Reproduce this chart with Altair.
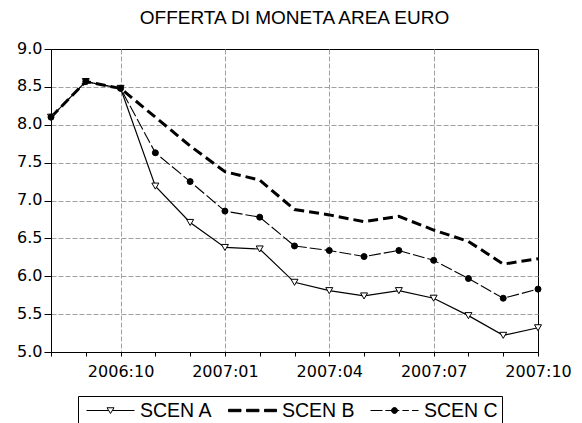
import json
import altair as alt
import pandas as pd

months = ["2006:08", "2006:09", "2006:10", "2006:11", "2006:12", "2007:01", "2007:02",
          "2007:03", "2007:04", "2007:05", "2007:06", "2007:07", "2007:08", "2007:09", "2007:10"]
scen_a = [8.10, 8.57, 8.48, 7.19, 6.71, 6.38, 6.36, 5.92, 5.81, 5.74, 5.81, 5.71, 5.48, 5.22, 5.32]
scen_b = [8.10, 8.57, 8.48, 8.10, 7.72, 7.38, 7.27, 6.88, 6.81, 6.72, 6.79, 6.61, 6.46, 6.16, 6.23]
scen_c = [8.10, 8.57, 8.48, 7.63, 7.25, 6.86, 6.78, 6.40, 6.34, 6.26, 6.34, 6.21, 5.97, 5.71, 5.83]
series_names = ["SCEN A", "SCEN B", "SCEN C"]
y_ticks = [5.0, 5.5, 6.0, 6.5, 7.0, 7.5, 8.0, 8.5, 9.0]
title_text = "OFFERTA DI MONETA AREA EURO"

rows = []
for name, vals in zip(series_names, [scen_a, scen_b, scen_c]):
    for i, (m, v) in enumerate(zip(months, vals)):
        rows.append({"series": name, "month": m, "idx": i, "value": v})
df = pd.DataFrame(rows)

n = len(months)
tick_labels = [m if m[-2:] in ("01", "04", "07", "10") else "" for m in months]
grid_idx = [i for i, t in enumerate(tick_labels) if t and 0 < i < n - 1]

GRID = "#a0a0a0"

x_enc = alt.X(
    "idx:Q",
    scale=alt.Scale(domain=[0, n - 1], nice=False, zero=False),
    axis=alt.Axis(
        values=list(range(n)),
        labelExpr=json.dumps(tick_labels) + "[datum.value]",
        title=None,
        tickSize=4,
        labelPadding=7,
        labelAngle=0,
        labelFlush=False,
        labelOverlap=False,
        labelFont="DejaVu Sans",
        labelFontSize=16,
        labelColor="black",
        domainColor="black",
        tickColor="black",
        gridColor=GRID,
        gridDash=[5, 2],
        gridOpacity={"condition": {"test": "indexof(" + json.dumps(grid_idx) + ", datum.value) >= 0",
                                   "value": 1}, "value": 0},
    ),
)
y_enc = alt.Y(
    "value:Q",
    scale=alt.Scale(domain=[5, 9], nice=False, zero=False),
    axis=alt.Axis(
        values=y_ticks,
        format=".1f",
        title=None,
        tickSize=7,
        labelPadding=2,
        labelOffset=-1,
        labelFont="DejaVu Sans",
        labelFontSize=16,
        labelColor="black",
        domainColor="black",
        tickColor="black",
        gridColor=GRID,
        gridDash=[5, 2],
        gridOpacity={"condition": {"test": "datum.value > 5 && datum.value < 9", "value": 1}, "value": 0},
    ),
)

base = alt.Chart(df)


def series(name):
    return base.transform_filter(alt.datum.series == name)


line_a = series("SCEN A").mark_line(color="black", strokeWidth=1.2).encode(x=x_enc, y=y_enc)
line_b = series("SCEN B").mark_line(color="black", strokeWidth=3, strokeDash=[10, 5],
                                    strokeCap="butt").encode(x=x_enc, y=y_enc)
line_c = series("SCEN C").mark_line(color="black", strokeWidth=1.1, strokeDash=[12, 3],
                                    strokeCap="butt").encode(x=x_enc, y=y_enc)

points_a = series("SCEN A").mark_point(
    shape="triangle-down", filled=True, fill="white", stroke="black", strokeWidth=1, size=49, opacity=1
).encode(x=x_enc, y=y_enc)

points_c = series("SCEN C").mark_point(
    shape="circle", filled=True, fill="black", stroke="black", strokeWidth=1, size=36, opacity=1
).encode(x=x_enc, y=y_enc)

# legend symbol glyphs (SVG paths, unit = 10px; a 48px-wide sample starting at x=-1)
legend_paths = [
    "M-1,0L1.22,0M1.58,0L3.8,0M1.05,-0.275L1.75,-0.275L1.4,0.3Z",
    "M-1,-0.12L0.25,-0.12L0.25,0.12L-1,0.12Z"
    "M0.8,-0.12L2.05,-0.12L2.05,0.12L0.8,0.12Z"
    "M2.6,-0.12L3.8,-0.12L3.8,0.12L2.6,0.12Z",
    "M-1,0L0.2,0M0.49,0L1.88,0M2.19,0L2.84,0M3.15,0L3.8,0"
    "M1.7,0A0.3,0.3 0 1,1 1.1,0A0.3,0.3 0 1,1 1.7,0Z",
]

leg = alt.Legend(
    orient="none", legendX=27, legendY=347, direction="horizontal", columns=3, title=None,
    strokeColor="black", fillColor="white", padding=4, cornerRadius=0,
    labelFont="Liberation Sans", labelFontSize=19.5, labelColor="black",
    labelOffset=33, columnPadding=11, symbolSize=400, symbolStrokeWidth=1,
    symbolOpacity=1, symbolOffset=4,
)

legend_layer = base.mark_point(strokeWidth=1, opacity=0, filled=False).encode(
    x=x_enc,
    y=y_enc,
    shape=alt.Shape("series:N", scale=alt.Scale(domain=series_names, range=legend_paths), legend=leg),
    fill=alt.Fill("series:N", scale=alt.Scale(domain=series_names, range=["white", "black", "black"]),
                  legend=leg),
    stroke=alt.Stroke("series:N", scale=alt.Scale(domain=series_names, range=["black", "black", "black"]),
                      legend=leg),
)

chart = alt.layer(line_a, line_b, line_c, points_a, points_c, legend_layer).properties(
    width=487,
    height=303,
    title=alt.TitleParams(title_text, font="Liberation Sans", fontSize=19, fontWeight="normal",
                          color="black", frame="group", anchor="middle", offset=12),
    autosize=alt.AutoSizeParams(type="none"),
    padding={"left": 43, "top": 41, "right": 36, "bottom": 72},
).configure_view(stroke="black", strokeWidth=1)

chart.save("out.html", embed_options={"renderer": "svg", "actions": False})
